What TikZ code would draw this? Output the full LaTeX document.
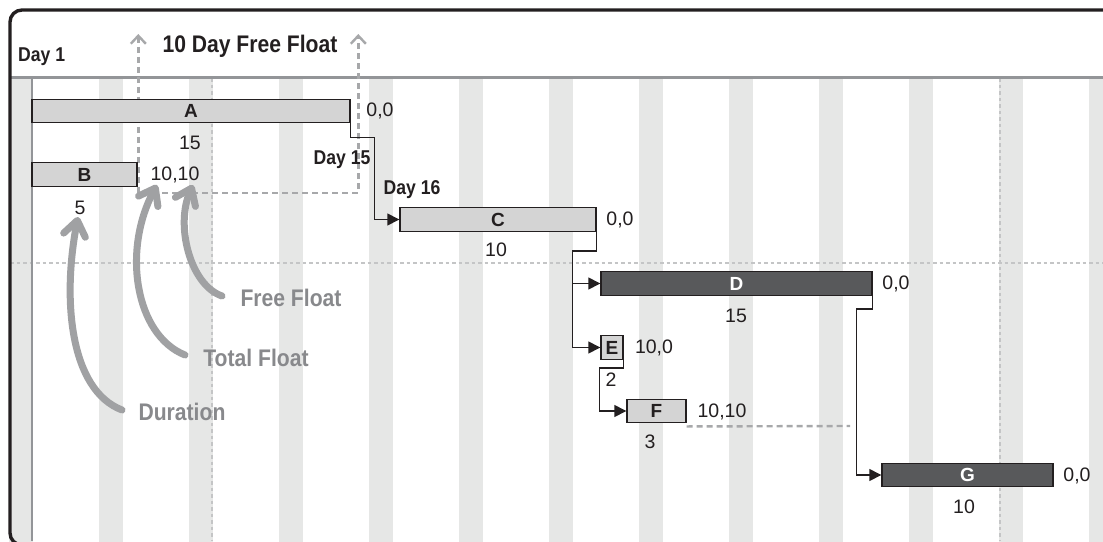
\documentclass[tikz,border=0pt]{standalone}
\usepackage{fontspec}
\setmainfont{Liberation Sans}
\newfontfamily\condb[FakeStretch=0.88]{Liberation Sans Bold}
\usetikzlibrary{arrows.meta}
\definecolor{ink}{HTML}{231F20}
\definecolor{stripe}{HTML}{E6E7E6}
\definecolor{barlight}{HTML}{D4D4D4}
\definecolor{bardark}{HTML}{58595B}
\definecolor{annot}{HTML}{A0A1A3}
\definecolor{annottext}{HTML}{88898C}
\definecolor{ffline}{HTML}{A7A8AA}
\definecolor{dotline}{HTML}{C4C5C6}
\definecolor{sepline}{HTML}{939598}
\begin{document}
\begin{tikzpicture}[x=1pt,y=-1pt,
 bar/.style={draw=ink, line width=1.4pt, inner sep=0pt, minimum height=23.5pt,
   font=\fontsize{19}{19}\selectfont\bfseries, text=ink},
 lightbar/.style={bar, fill=barlight},
 darkbar/.style={bar, fill=bardark, text=white},
 num/.style={inner sep=0pt, font=\fontsize{19.5}{19.5}\selectfont, text=ink},
 daylbl/.style={inner sep=0pt, font=\condb\fontsize{20}{20}\selectfont, text=ink},
 titlelbl/.style={inner sep=0pt, font=\condb\fontsize{24}{24}\selectfont, text=ink},
 annlbl/.style={inner sep=0pt, font=\condb\fontsize{24}{24}\selectfont, text=annottext},
 conn/.style={draw=ink, line width=1.4pt, -{Triangle[length=12pt,width=12pt]}},
 ffdash/.style={draw=ffline, line width=2.4pt, dash pattern=on 6pt off 4pt},
 ffarrows/.style={{Straight Barb[length=8pt,width=15pt,line width=2.4pt]}-{Straight Barb[length=8pt,width=15pt,line width=2.4pt]}},
 bigarrow/.style={draw=annot, line width=7pt, line cap=round,
   -{Straight Barb[length=15pt,width=22pt,round]}},
 gridline/.style={draw=dotline, line width=1.6pt, dash pattern=on 3.5pt off 3pt}
]
\useasboundingbox (0,0) rectangle (1103,541);
\clip (0,0) rectangle (1103,541);
\fill[white] (0,0) rectangle (1103,541);

% stripes
\foreach \sx in {9,99,...,1089} {
  \fill[stripe] (\sx,78) rectangle ++(24,470);
}
\fill[white] (0,78) rectangle (9,541);
% dotted grid lines
\draw[gridline] (212,78) -- (212,541);
\draw[gridline] (1000,78) -- (1000,541);
\draw[gridline] (10,263) -- (1103,263);
% day 1 line
\draw[draw=sepline, line width=1.6pt] (32,78) -- (32,541);
% header separator
\draw[draw=sepline, line width=2.5pt] (10,77.3) -- (1103,77.3);
% frame (top and left edges only are inside the picture)
\draw[draw=ink, line width=3.4pt, rounded corners=12pt] (1200,10) -- (10,10) -- (10,545) -- (1200,545);

% free float bracket
\coordinate (ffL) at (138.3,34);
\coordinate (ffR) at (358.3,34);
\draw[ffdash, ffarrows] (ffL) -- (138.3,193) -- (358.3,193) -- (ffR);

% header texts
\node[daylbl, anchor=west] (day1) at (18,57) {Day 1};
\node[titlelbl] (title) at (250,46) {10 Day Free Float};

% bars
\node[lightbar, minimum width=318pt] (A) at (191,111) {A};
\node[lightbar, minimum width=105pt] (B) at (84.5,174.5) {B};
\node[lightbar, minimum width=196pt] (C) at (498,219.5) {C};
\node[darkbar, minimum width=271pt] (D) at (736.5,283.5) {D};
\node[lightbar, minimum width=22pt] (E) at (612,347.5) {E};
\node[lightbar, minimum width=59pt] (F) at (656.5,411) {F};
\node[darkbar, minimum width=171pt] (G) at (967.5,475) {G};

% numbers
\node[num] (Adur) at (190,143) {15};
\node[num] (Afl) at (380,111) {0,0};
\node[num] (Bdur) at (80,208) {5};
\node[num] (Bfl) at (175,175) {10,10};
\node[num] (Cdur) at (496,250) {10};
\node[num] (Cfl) at (620,219.5) {0,0};
\node[num] (Ddur) at (736,316) {15};
\node[num] (Dfl) at (896,284) {0,0};
\node[num] (Edur) at (611,380) {2};
\node[num] (Efl) at (654,348) {10,0};
\node[num] (Fdur) at (650,442) {3};
\node[num] (Ffl) at (722,412) {10,10};
\node[num] (Gdur) at (964,507) {10};
\node[num] (Gfl) at (1077,476) {0,0};

% day labels
\node[daylbl] (day15) at (342,160) {Day 15};
\node[daylbl] (day16) at (412,189.5) {Day 16};

% connectors
\draw[conn] (A.south east) -- ++(0,14) -- ++(24,0) |- (C.west);
\draw[conn] (C.south east) -- ++(0,19) -- ++(-24,0) |- (D.west);
\draw[conn] (C.south east) -- ++(0,19) -- ++(-24,0) |- (E.west);
\draw[conn] (E.south east) -- ++(0,8) -- ++(-24,0) |- (F.west);
\draw[conn] (D.south east) -- ++(0,13) -- ++(-16,0) |- (G.west);

% F free float dashed
\coordinate (Fend) at (850,426);
\draw[ffdash] (F.south east) ++(0,3) -- (Fend);

% annotation labels
\node[annlbl] (durlbl) at (182,412) {Duration};
\node[annlbl] (totlbl) at (256,357.5) {Total Float};
\node[annlbl] (freelbl) at (291,297.5) {Free Float};

\coordinate (durtail) at (122,410);
\coordinate (durtip) at (78,217);
\coordinate (tottail) at (185,355);
\coordinate (tottip) at (157,185);
\coordinate (freetail) at (222,296);
\coordinate (freetip) at (193,185);
\draw[bigarrow] (durtail) .. controls (70,390) and (62,300) .. (durtip);
\draw[bigarrow] (tottail) .. controls (135,335) and (122,250) .. (tottip);
\draw[bigarrow] (freetail) .. controls (190,285) and (175,225) .. (freetip);
\end{tikzpicture}
\end{document}
